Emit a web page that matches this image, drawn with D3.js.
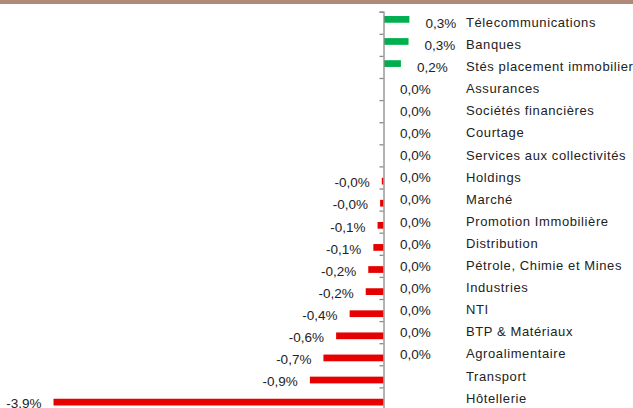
<!DOCTYPE html>
<html>
<head>
<meta charset="utf-8">
<script src="https://cdn.jsdelivr.net/npm/d3@7"></script>
<style>
  body { margin: 0; background: #fff; }
  svg { display: block; font-family: "Liberation Sans", Arial, sans-serif; }
</style>
</head>
<body>
<div id="chart"></div>
<script>
// secteurs, du haut vers le bas
const categories = [
  "Télecommunications", "Banques", "Stés placement immobilier", "Assurances",
  "Sociétés financières", "Courtage", "Services aux collectivités", "Holdings",
  "Marché", "Promotion Immobilière", "Distribution", "Pétrole, Chimie et Mines",
  "Industries", "NTI", "BTP & Matériaux", "Agroalimentaire", "Transport", "Hôtellerie"
];
// variations positives (null = pas de point)
const hausses = [0.30, 0.29, 0.20, 0, 0, 0, 0, 0, 0, 0, 0, 0, 0, 0, 0, 0, null, null];
// variations négatives
const baisses = [null, null, null, null, null, null, null, -0.02, -0.04, -0.07, -0.12, -0.18, -0.21, -0.40, -0.56, -0.71, -0.87, -3.9];

const width = 633, height = 408;
const topY = 11.7, rowH = 22.1;
const fmt = v => v.toFixed(1).replace(".", ",") + "%";

const svg = d3.select("#chart").append("svg")
  .attr("width", width)
  .attr("height", height);

// bandeau du haut
svg.append("rect")
  .attr("x", 0).attr("y", 0)
  .attr("width", width).attr("height", 4)
  .attr("fill", "#b08a79");

const x = d3.scaleLinear()
  .domain([-3.9, 0.3])
  .range([53.5, 383.5 + 0.3 * 84.6]);

const y = d3.scaleBand()
  .domain(categories)
  .range([topY, topY + rowH * categories.length])
  .paddingInner(0.39)
  .paddingOuter(0.195);

const sub = d3.scaleBand()
  .domain(["hausse", "baisse"])
  .range([0, y.bandwidth()]);

const mid = c => y(c) + y.bandwidth() / 2;

// barres vertes
svg.append("g")
  .selectAll("rect")
  .data(categories.map((c, i) => ({ c, v: hausses[i] })).filter(d => d.v !== null && d.v > 0))
  .join("rect")
  .attr("x", x(0) + 0.5)
  .attr("y", d => y(d.c) + sub("hausse"))
  .attr("width", d => x(d.v) - x(0))
  .attr("height", sub.bandwidth())
  .attr("fill", "#00b050");

// barres rouges
svg.append("g")
  .selectAll("rect")
  .data(categories.map((c, i) => ({ c, v: baisses[i] })).filter(d => d.v !== null))
  .join("rect")
  .attr("x", d => x(d.v))
  .attr("y", d => y(d.c) + sub("baisse") + 0.3)
  .attr("width", d => x(0) - x(d.v))
  .attr("height", sub.bandwidth())
  .attr("fill", "#e60000");

// axe vertical avec graduations entre catégories
const yTicks = d3.scaleLinear()
  .domain([0, categories.length])
  .range([topY, topY + rowH * categories.length]);

svg.append("g")
  .attr("transform", `translate(${x(0)},0)`)
  .call(d3.axisLeft(yTicks).ticks(categories.length).tickSize(4).tickFormat(""))
  .call(g => g.selectAll("path, line").attr("stroke", "#8c8c8c").attr("stroke-width", 1.3));

// étiquettes des hausses
svg.append("g")
  .selectAll("text")
  .data(categories.map((c, i) => ({ c, v: hausses[i] })).filter(d => d.v !== null))
  .join("text")
  .attr("x", d => x(d.v) + 16.5)
  .attr("y", d => mid(d.c))
  .attr("dy", "0.36em")
  .attr("font-size", 13.5)
  .attr("fill", "#222")
  .text(d => fmt(d.v));

// étiquettes des baisses
svg.append("g")
  .selectAll("text")
  .data(categories.map((c, i) => ({ c, v: baisses[i] })).filter(d => d.v !== null))
  .join("text")
  .attr("x", d => x(d.v) - 12)
  .attr("y", d => mid(d.c) + 5)
  .attr("dy", "0.36em")
  .attr("text-anchor", "end")
  .attr("font-size", 13.5)
  .attr("fill", "#222")
  .text(d => fmt(d.v));

// noms des secteurs
svg.append("g")
  .attr("transform", "translate(466,0)")
  .call(d3.axisRight(y).tickSize(0).tickPadding(0))
  .call(g => g.select(".domain").remove())
  .call(g => g.selectAll("text")
    .attr("font-size", 13)
    .attr("font-family", "'Liberation Sans', Arial, sans-serif")
    .attr("letter-spacing", 0.6)
    .attr("fill", "#222")
    .attr("dy", "0.32em"));
</script>
</body>
</html>
